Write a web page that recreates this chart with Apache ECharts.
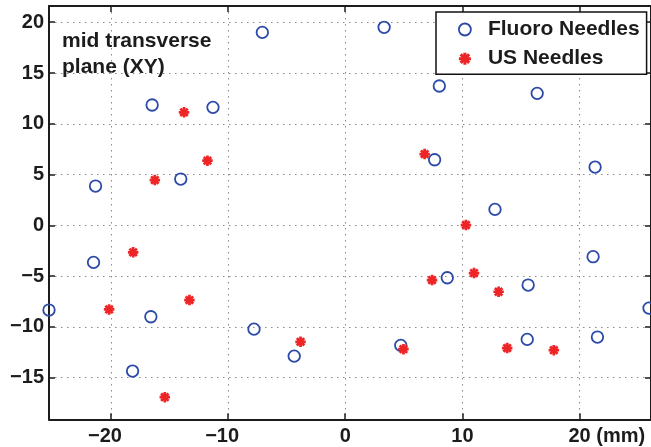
<!DOCTYPE html>
<html>
<head>
<meta charset="utf-8">
<script src="https://cdn.jsdelivr.net/npm/echarts@6/dist/echarts.min.js"></script>
<style>
  html, body { margin: 0; padding: 0; background: #fff; }
  #chart { width: 651px; height: 447px; }
</style>
</head>
<body>
<div id="chart"></div>
<script>
// Needle positions in the mid transverse plane (mm)
const fluoroX = [-21.3, -16.47, -11.28, -14.03, -7.07, 3.32, 8.03, 16.38, 7.63, 21.32, 12.78,
                 -21.47, -25.27, -16.58, -18.14, -7.78, -4.35, 8.71, 15.61, 21.15, 25.92, 4.74, 15.53, 21.52];
const fluoroY = [3.87, 11.85, 11.62, 4.56, 19.0, 19.5, 13.72, 13.0, 6.46, 5.74, 1.57,
                 -3.65, -8.34, -9.0, -14.35, -10.22, -12.88, -5.16, -5.88, -3.09, -8.15, -11.82, -11.23, -11.0];
const usX = [-13.75, -11.75, -16.24, 6.78, 10.3, -18.09, -20.14, -13.29, -15.39, -3.81,
             7.41, 10.99, 13.09, 4.97, 13.82, 17.80];
const usY = [11.13, 6.37, 4.46, 7.02, 0.03, -2.66, -8.28, -7.36, -16.92, -11.47,
             -5.39, -4.70, -6.54, -12.19, -12.09, -12.29];

const seriesNames = ['Fluoro Needles', 'US Needles'];
const titleLines = ['mid transverse', 'plane (XY)'];
const xUnit = '(mm)';
const xRange = [-25.27, 26.09];
const yRange = [-19.1, 21.6];

const FONT = '"Liberation Sans", Arial, Helvetica, sans-serif';
const INK = '#1c1c1c';
const BLUE = '#2c4aa8';
const RED = '#ee2526';

// asterisk marker: plus and cross bars unioned
const STAR = 'path://M0 37L100 37L100 63L0 63Z M37 0L63 0L63 100L37 100Z ' +
  'M5.45 23.84L23.84 5.45L94.55 76.16L76.16 94.55Z M5.45 76.16L76.16 5.45L94.55 23.84L23.84 94.55Z';

const pairs = (xs, ys) => xs.map((x, i) => [x, ys[i]]);
const minus = v => (v < 0 ? '\u2212' + Math.abs(v) : String(v));

const labelBase = { fontFamily: FONT, fontWeight: 'bold', fontSize: 20, color: INK };

const gridLine = { show: true, lineStyle: { color: '#8a8a8a', width: 1, type: [1.5, 4.5] } };
const axisLine = { show: true, onZero: false, lineStyle: { color: INK, width: 2 } };
const tick = { show: true, inside: true, length: 6, lineStyle: { color: INK, width: 1.5 } };

const chart = echarts.init(document.getElementById('chart'), null, { renderer: 'canvas' });

chart.setOption({
  animation: false,
  backgroundColor: '#fff',
  grid: { left: 49, top: 6, width: 603, height: 413.3, containLabel: false },
  xAxis: [{
    type: 'value', min: xRange[0], max: xRange[1], minInterval: 10, maxInterval: 10,
    axisLine, axisTick: tick, splitLine: gridLine,
    axisLabel: {
      ...labelBase, margin: 7, showMinLabel: false, showMaxLabel: false,
      formatter: v => {
        if (v === 20) return '{u|20 ' + xUnit + '}';
        if (v < 0) return '{n|' + minus(v) + '}';
        return '{p|' + v + '}';
      },
      rich: {
        p: { ...labelBase },
        n: { ...labelBase, padding: [0, 11.7, 0, 0] },
        u: { ...labelBase, padding: [0, 0, 0, 54.4] }
      }
    }
  }, {
    type: 'value', position: 'top', min: xRange[0], max: xRange[1], minInterval: 10, maxInterval: 10,
    axisLine, axisTick: tick, splitLine: { show: false }, axisLabel: { show: false }
  }],
  yAxis: [{
    type: 'value', min: yRange[0], max: yRange[1], minInterval: 5, maxInterval: 5,
    axisLine, axisTick: tick, splitLine: gridLine,
    axisLabel: {
      ...labelBase, margin: 5, showMinLabel: false, showMaxLabel: false,
      formatter: v => minus(v)
    }
  }, {
    type: 'value', position: 'right', min: yRange[0], max: yRange[1], minInterval: 5, maxInterval: 5,
    axisLine, axisTick: tick, splitLine: { show: false }, axisLabel: { show: false }
  }],
  legend: {
    orient: 'vertical',
    left: 436, top: 12,
    padding: [7, 7, 5, 22],
    itemWidth: 12, itemHeight: 12, itemGap: 8.2,
    backgroundColor: '#fff',
    borderColor: '#111', borderWidth: 1.5, borderRadius: 0,
    textStyle: { fontFamily: FONT, fontWeight: 'bold', fontSize: 21, color: INK, padding: [0, 0, 0, 12] },
    data: [
      { name: seriesNames[0], icon: 'circle', itemStyle: { color: 'rgba(0,0,0,0)', borderColor: BLUE, borderWidth: 1.8 } },
      { name: seriesNames[1], icon: STAR, itemStyle: { color: RED, borderWidth: 0 } }
    ]
  },
  graphic: [{
    type: 'text', left: 62, top: 27.5, silent: true,
    style: {
      text: titleLines.join('\n'),
      font: 'bold 21px ' + FONT,
      lineHeight: 26.7,
      fill: INK
    }
  }],
  series: [{
    name: seriesNames[0], type: 'scatter', symbol: 'circle', symbolSize: 11.5,
    itemStyle: { color: 'rgba(0,0,0,0)', borderColor: BLUE, borderWidth: 1.8, opacity: 1 },
    data: pairs(fluoroX, fluoroY), z: 3
  }, {
    name: seriesNames[1], type: 'scatter', symbol: STAR, symbolSize: 10.5,
    itemStyle: { color: RED, opacity: 1 },
    data: pairs(usX, usY), z: 4
  }]
});
</script>
</body>
</html>
